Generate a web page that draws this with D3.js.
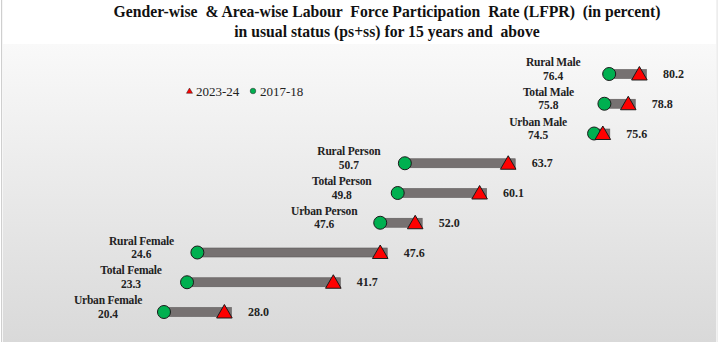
<!DOCTYPE html>
<html><head><meta charset="utf-8">
<script src="https://cdn.jsdelivr.net/npm/d3@7"></script>
<style>html,body{margin:0;padding:0;background:#fff;}svg{display:block;}</style>
</head><body>
<script>
const categories = ["Rural Male","Total Male","Urban Male","Rural Person","Total Person","Urban Person","Rural Female","Total Female","Urban Female"];
const values2017 = [76.4, 75.8, 74.5, 50.7, 49.8, 47.6, 24.6, 23.3, 20.4];
const values2023 = [80.2, 78.8, 75.6, 63.7, 60.1, 52.0, 47.6, 41.7, 28.0];
const seriesNames = ["2023-24", "2017-18"];
const titleLines = ["Gender-wise  & Area-wise Labour  Force Participation  Rate (LFPR)  (in percent)", "in usual status (ps+ss) for 15 years and  above"];

const W = 718, H = 342;
const data = categories.map((c, i) => ({cat: c, a: values2017[i], b: values2023[i]}));
const svg = d3.select("body").append("svg").attr("width", W).attr("height", H);
const defs = svg.append("defs");
const grad = defs.append("linearGradient").attr("id", "bg").attr("x1", 0).attr("y1", 0).attr("x2", 0).attr("y2", 1);
grad.append("stop").attr("offset", "0%").attr("stop-color", "#f9f9f9");
grad.append("stop").attr("offset", "100%").attr("stop-color", "#d9d9d9");

svg.append("rect").attr("x", 0).attr("y", 0).attr("width", W).attr("height", H).attr("fill", "#fff");
svg.append("rect").attr("x", 3).attr("y", 44).attr("width", 713).attr("height", H - 44).attr("fill", "url(#bg)");
svg.append("rect").attr("x", 1).attr("y", 0).attr("width", 1.2).attr("height", H).attr("fill", "#cfcfcf");
svg.append("rect").attr("x", 716.5).attr("y", 0).attr("width", 1.2).attr("height", H).attr("fill", "#e6e6e6");

const serif = "'Liberation Serif','Times New Roman',serif";

svg.append("g").selectAll("text").data(titleLines).join("text")
  .attr("x", 387).attr("y", (d, i) => 17 + i * 20)
  .attr("text-anchor", "middle").attr("font-family", serif).attr("font-weight", "bold")
  .attr("font-size", 15.7).attr("fill", "#111").style("white-space", "pre").text(d => d);

const x = d3.scaleLinear().domain([0, 80]).range([1.8, 637.8]);
const y = d3.scalePoint().domain(categories).range([74, 312]);

const tri = d3.symbol().type(d3.symbolTriangle).size(105);

const g = svg.append("g");
// bars
g.selectAll("rect.bar").data(data).join("rect").attr("class", "bar")
  .attr("x", d => x(d.a)).attr("y", d => y(d.cat) - 4.5)
  .attr("width", d => x(d.b) + 7 - x(d.a)).attr("height", 9)
  .attr("fill", "#767171").attr("stroke", "#5e5a5a").attr("stroke-width", 0.6);
// circles
g.selectAll("circle.a").data(data).join("circle").attr("class", "a")
  .attr("cx", d => x(d.a)).attr("cy", d => y(d.cat)).attr("r", 6.5)
  .attr("fill", "#00b050").attr("stroke", "#1a1a1a").attr("stroke-width", 1);
// triangles
g.selectAll("path.b").data(data).join("path").attr("class", "b")
  .attr("transform", d => `translate(${x(d.b)},${y(d.cat) + 1.5})`)
  .attr("d", tri).attr("fill", "#ff0000").attr("stroke", "#1a1a1a").attr("stroke-width", 1);

// left labels (two separate lines)
const labX = d => x(d.a) - 56;
g.selectAll("text.lab1").data(data).join("text").attr("class", "lab1")
  .attr("x", labX).attr("y", d => y(d.cat) - 8)
  .attr("text-anchor", "middle").attr("font-family", serif).attr("font-weight", "bold")
  .attr("font-size", 11.5).attr("fill", "#222").attr("letter-spacing", -0.2).text(d => d.cat);
g.selectAll("text.lab2").data(data).join("text").attr("class", "lab2")
  .attr("x", labX).attr("y", d => y(d.cat) + 5.5)
  .attr("text-anchor", "middle").attr("font-family", serif).attr("font-weight", "bold")
  .attr("font-size", 11.5).attr("fill", "#222").text(d => d.a.toFixed(1));

// right labels
g.selectAll("text.val").data(data).join("text").attr("class", "val")
  .attr("x", d => x(d.b) + 34).attr("y", d => y(d.cat) + 4)
  .attr("text-anchor", "middle").attr("font-family", serif).attr("font-weight", "bold")
  .attr("font-size", 12).attr("fill", "#222").text(d => d.b.toFixed(1));

// legend
const leg = svg.append("g");
leg.append("path").attr("transform", "translate(189.5,91.5)")
  .attr("d", d3.symbol().type(d3.symbolTriangle).size(16)).attr("fill", "#ff0000").attr("stroke", "#222").attr("stroke-width", 0.5);
leg.append("text").attr("x", 196).attr("y", 95.5).attr("font-family", serif).attr("font-size", 13).attr("fill", "#222").text(seriesNames[0]);
leg.append("circle").attr("cx", 253).attr("cy", 91).attr("r", 2.8).attr("fill", "#00b050").attr("stroke", "#222").attr("stroke-width", 0.5);
leg.append("text").attr("x", 260).attr("y", 95.5).attr("font-family", serif).attr("font-size", 13).attr("fill", "#222").text(seriesNames[1]);
</script>
</body></html>
